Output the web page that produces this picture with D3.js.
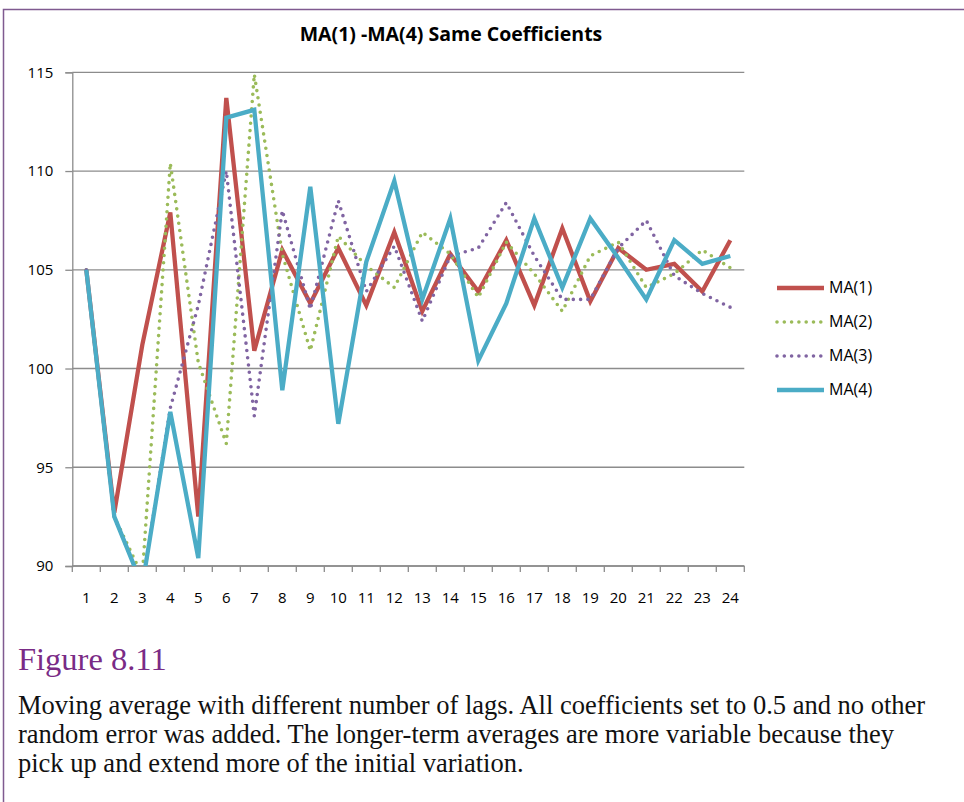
<!DOCTYPE html>
<html>
<head>
<meta charset="utf-8">
<script src="https://cdn.jsdelivr.net/npm/d3@7/dist/d3.min.js"></script>
<style>
  html, body { margin: 0; padding: 0; background: #fff; }
  svg { display: block; }
</style>
</head>
<body>
<script>
// Period labels along the x axis
const periods = d3.range(1, 25).map(String);

// Series values, one per period
const ma1 = [105, 92.7, 101.2, 107.9, 92.5, 113.7, 100.9, 106.0, 103.3, 106.1, 103.2, 106.9,
             102.9, 105.8, 103.9, 106.5, 103.2, 107.1, 103.4, 106.1, 105.0, 105.3, 103.9, 106.5];
const ma2 = [105, 92.5, 89.5, 110.4, 100.3, 96.2, 114.9, 105.8, 100.9, 106.7, 105.2, 104.1,
             106.9, 105.8, 103.6, 106.4, 104.8, 102.9, 105.7, 106.4, 104.1, 104.8, 106.0, 105.1];
const ma3 = [105, 92.5, 89.0, 98.0, 103.2, 110.0, 97.6, 108.0, 103.0, 108.5, 103.9, 106.2,
             102.4, 105.7, 106.1, 108.4, 105.7, 103.5, 103.5, 106.1, 107.5, 104.7, 103.8, 103.1];
const ma4 = [105, 92.5, 89.0, 97.8, 90.4, 112.7, 113.1, 98.9, 109.2, 97.2, 105.4, 109.5,
             103.5, 107.6, 100.4, 103.3, 107.6, 104.1, 107.6, 105.6, 103.5, 106.5, 105.3, 105.7];

const seriesNames = ["MA(1)", "MA(2)", "MA(3)", "MA(4)"];
const yTicks = [90, 95, 100, 105, 110, 115];

const captionTitle = "Figure 8.11";
const captionLines = [
  "Moving average with different number of lags. All coefficients set to 0.5 and no other",
  "random error was added. The longer-term averages are more variable because they",
  "pick up and extend more of the initial variation."
];

const W = 964, H = 802;
const plot = { left: 72.3, right: 744.3, top: 72.3, bottom: 566 };

const svg = d3.select("body").append("svg").attr("width", W).attr("height", H);

// Page frame
svg.append("path")
  .attr("d", `M3.5,${H} V9.5 H${W}`)
  .attr("fill", "none").attr("stroke", "#7f5a90").attr("stroke-width", 1.5);

const x = d3.scaleBand().domain(periods).range([plot.left, plot.right]);
const y = d3.scaleLinear().domain([90, 115]).range([plot.bottom, plot.top]);

const axisColor = "#8c8c8c";
const labelFont = "'Open Sans', Lato, sans-serif";

// Horizontal gridlines
svg.append("g").selectAll("line").data(yTicks).join("line")
  .attr("x1", plot.left).attr("x2", plot.right)
  .attr("y1", d => y(d)).attr("y2", d => y(d))
  .attr("stroke", axisColor).attr("stroke-width", 1.3);

// Y axis
const yAxis = svg.append("g").attr("transform", `translate(${plot.left},0)`)
  .call(d3.axisLeft(y).tickValues(yTicks).tickSize(7).tickPadding(12).tickFormat(d3.format("d")));
yAxis.select(".domain").attr("stroke", axisColor).attr("stroke-width", 1.3);
yAxis.selectAll(".tick line").attr("stroke", axisColor).attr("stroke-width", 1.3);
yAxis.selectAll("text").attr("font-family", labelFont).attr("font-size", 15).attr("fill", "#000");

// X axis: ticks sit on the band boundaries, labels in the band centres
const xAxisG = svg.append("g").attr("transform", `translate(0,${plot.bottom})`);
xAxisG.append("line").attr("x1", plot.left).attr("x2", plot.right)
  .attr("stroke", axisColor).attr("stroke-width", 1.3);
const bounds = periods.map(p => x(p)).concat([x(periods[periods.length - 1]) + x.bandwidth()]);
xAxisG.selectAll("line.tk").data(bounds).join("line").attr("class", "tk")
  .attr("x1", d => d).attr("x2", d => d).attr("y1", 0).attr("y2", 6)
  .attr("stroke", axisColor).attr("stroke-width", 1.3);
xAxisG.selectAll("text").data(periods).join("text")
  .attr("x", d => x(d) + x.bandwidth() / 2).attr("y", 37)
  .attr("text-anchor", "middle").attr("font-family", labelFont).attr("font-size", 15)
  .text(d => d);

// Plot clip
svg.append("clipPath").attr("id", "plotClip").append("rect")
  .attr("x", plot.left).attr("y", plot.top - 10)
  .attr("width", plot.right - plot.left).attr("height", plot.bottom - plot.top + 10);

const styles = [
  { color: "#C0504D", width: 4.3, dash: null },
  { color: "#9BBB59", width: 3.6, dash: "0 7.3" },
  { color: "#8064A2", width: 3.6, dash: "0 7.3" },
  { color: "#4BACC6", width: 4.3, dash: null }
];
const allSeries = [ma1, ma2, ma3, ma4];

const line = d3.line()
  .x((d, i) => x(periods[i]) + x.bandwidth() / 2)
  .y(d => y(d));

const lines = svg.append("g").attr("clip-path", "url(#plotClip)");
allSeries.forEach((vals, k) => {
  const s = styles[k];
  lines.append("path").datum(vals)
    .attr("d", line)
    .attr("fill", "none")
    .attr("stroke", s.color)
    .attr("stroke-width", s.width)
    .attr("stroke-linejoin", "miter")
    .attr("stroke-linecap", s.dash ? "round" : "butt")
    .attr("stroke-dasharray", s.dash);
});

// Title
svg.append("text").attr("x", 451).attr("y", 41)
  .attr("text-anchor", "middle").attr("font-family", labelFont)
  .attr("font-weight", "bold").attr("font-size", 19.5).text("MA(1) -MA(4) Same Coefficients");

// Legend
const legend = svg.append("g");
seriesNames.forEach((name, k) => {
  const s = styles[k];
  const ly = 288 + k * 34;
  legend.append("line").attr("x1", 777).attr("x2", 824).attr("y1", ly).attr("y2", ly)
    .attr("stroke", s.color).attr("stroke-width", s.width)
    .attr("stroke-linecap", s.dash ? "round" : "butt")
    .attr("stroke-dasharray", s.dash);
  legend.append("text").attr("x", 829).attr("y", ly + 5)
    .attr("font-family", labelFont).attr("font-size", 16).text(name);
});

// Figure caption
const serif = "'Liberation Serif', 'Times New Roman', serif";
svg.append("text").attr("x", 18).attr("y", 670)
  .attr("font-family", serif)
  .attr("font-size", 32.5).attr("fill", "#7a2b86").text(captionTitle);
captionLines.forEach((t, i) => {
  svg.append("text").attr("x", 18).attr("y", 714 + i * 29)
    .attr("font-family", serif)
    .attr("font-size", 26.5).attr("fill", "#111").text(t);
});
</script>
</body>
</html>
